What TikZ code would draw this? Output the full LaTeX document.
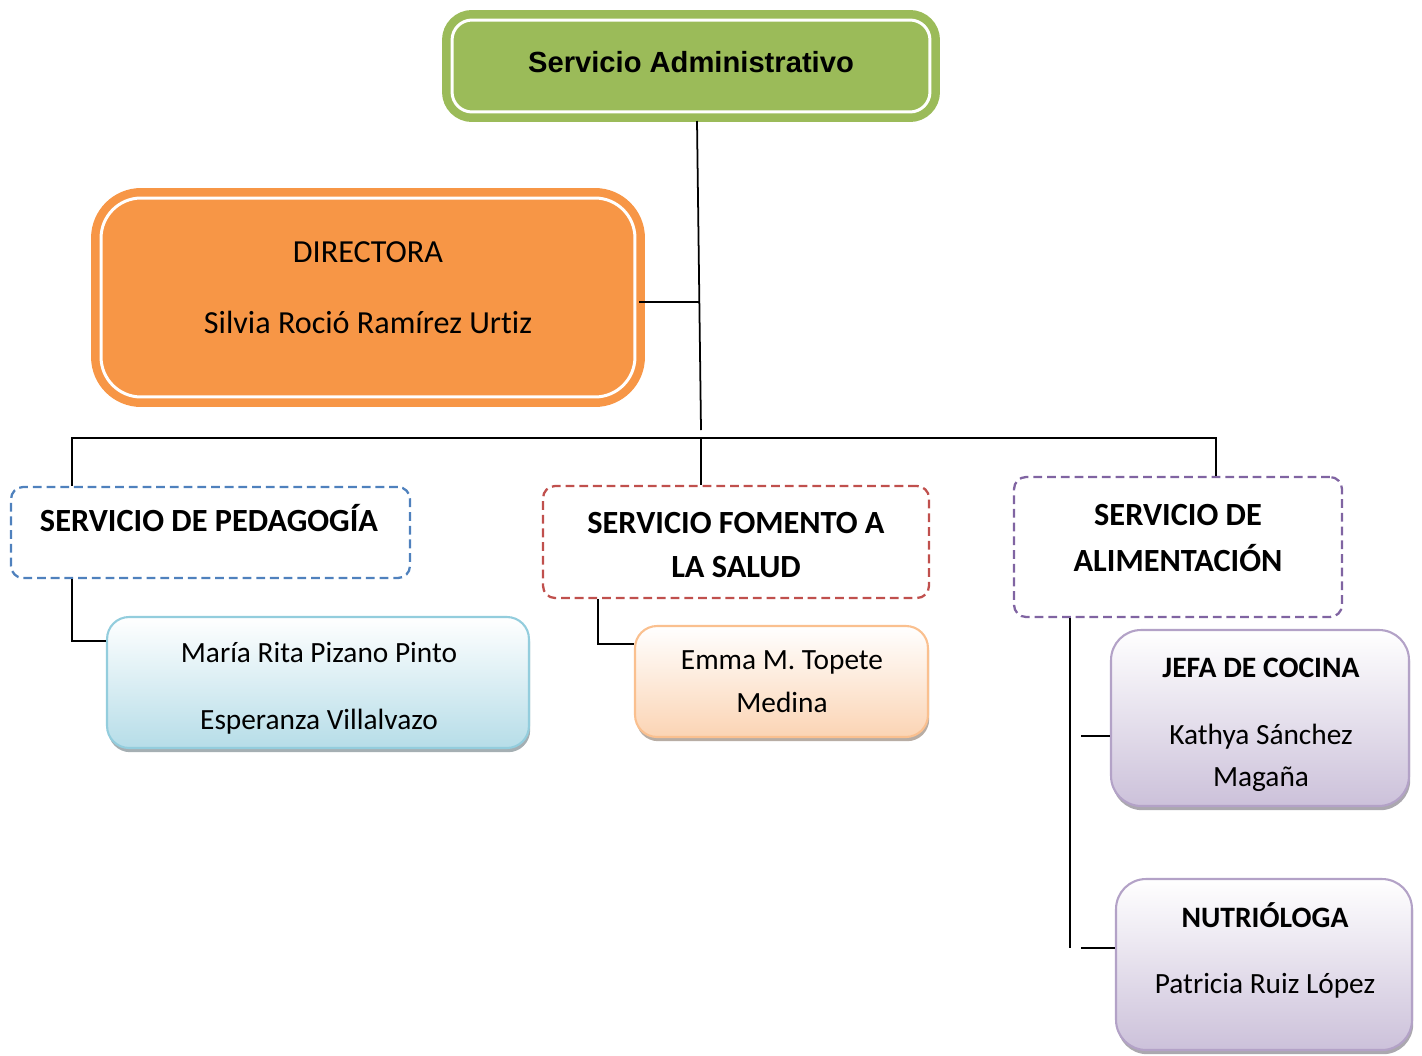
\documentclass[tikz,border=0pt]{standalone}
\usepackage{fontspec}
\setmainfont{Carlito}[Ligatures=NoCommon]
\newfontfamily\arialfont{Liberation Sans}
\usetikzlibrary{shadows}
\definecolor{grn}{HTML}{9BBB59}
\definecolor{org}{HTML}{F79646}
\definecolor{dblue}{HTML}{4F81BD}
\definecolor{dred}{HTML}{C0504D}
\definecolor{dpurp}{HTML}{8064A2}
\definecolor{lblue}{HTML}{B6DDE8}
\definecolor{lblueb}{HTML}{93CDDD}
\definecolor{lpeach}{HTML}{FBD4B4}
\definecolor{lpeachb}{HTML}{FAC08F}
\definecolor{lpurp}{HTML}{CCC1DA}
\definecolor{lpurpb}{HTML}{B3A2C7}
\tikzset{
  mainbox/.style={draw=#1, double=white, line width=0.17cm, double distance=0.06cm, fill=#1, inner sep=0pt},
  dashbox/.style={draw=#1, line width=1.3pt, dash pattern=on 5pt off 2.8pt, rounded corners=0.24cm, inner sep=0pt},
  gradbox/.style 2 args={draw=#2, line width=1.2pt, top color=white, bottom color=#1, rounded corners=0.44cm, inner sep=0pt,
     drop shadow={shadow xshift=0.7pt, shadow yshift=-2.4pt, fill=#1!50!black, opacity=0.55}},
  conn/.style={line width=1pt, black},
  txt/.style={anchor=base, inner sep=0pt, font=\fontsize{16.7}{19}\selectfont},
  btxt/.style={anchor=base, inner sep=0pt, font=\fontsize{18.4}{21}\selectfont\bfseries},
}
\begin{document}
\begin{tikzpicture}[x=0.02cm, y=-0.02cm]
\useasboundingbox (0,0) rectangle (1422,1055);
% boxes
\node[mainbox=grn, rounded corners=0.4cm, minimum width=9.56cm, minimum height=1.84cm] (adm) at (691,66) {};
\node[mainbox=org, rounded corners=0.8cm, minimum width=10.68cm, minimum height=3.98cm] (dir) at (368,297.5) {};
\node[dashbox=dblue, minimum width=7.98cm, minimum height=1.82cm] (ped) at (210.5,532.5) {};
\node[dashbox=dred, minimum width=7.72cm, minimum height=2.24cm] (sal) at (736,542) {};
\node[dashbox=dpurp, minimum width=6.56cm, minimum height=2.8cm] (alim) at (1178,547) {};
\node[gradbox={lblue}{lblueb}, minimum width=8.44cm, minimum height=2.62cm] (maria) at (318,682.5) {};
\node[gradbox={lpeach}{lpeachb}, minimum width=5.86cm, minimum height=2.22cm] (emma) at (781.5,681.5) {};
\node[gradbox={lpurp}{lpurpb}, rounded corners=0.6cm, minimum width=5.96cm, minimum height=3.52cm] (jefa) at (1260,718) {};
\node[gradbox={lpurp}{lpurpb}, rounded corners=0.6cm, minimum width=5.92cm, minimum height=3.42cm] (nutri) at (1264,964.5) {};
% texts
\node[anchor=base, inner sep=0pt, font=\arialfont\fontsize{16.6}{19}\selectfont\bfseries] (tadm) at (691,72) {Servicio Administrativo};
\node[txt, font=\fontsize{18.3}{21}\selectfont] (tdir1) at (368,262.5) {DIRECTORA};
\node[txt, font=\fontsize{18.3}{21}\selectfont] (tdir2) at (368,333.5) {Silvia Roció Ramírez Urtiz};
\node[btxt] (tped) at (209,531.5) {SERVICIO DE PEDAGOGÍA};
\node[btxt] (tsal1) at (736,533.5) {SERVICIO FOMENTO A};
\node[btxt] (tsal2) at (736,577.5) {LA SALUD};
\node[btxt] (tali1) at (1178,525.5) {SERVICIO DE};
\node[btxt] (tali2) at (1178,571) {ALIMENTACIÓN};
\node[txt] (tmar1) at (319,662.5) {María Rita Pizano Pinto};
\node[txt] (tmar2) at (319,729) {Esperanza Villalvazo};
\node[txt] (temm1) at (782,669) {Emma M. Topete};
\node[txt] (temm2) at (782,712) {Medina};
\node[btxt, font=\fontsize{16.85}{19}\selectfont\bfseries] (tjef1) at (1261,677.5) {JEFA DE COCINA};
\node[txt] (tjef2) at (1261,744) {Kathya Sánchez};
\node[txt] (tjef3) at (1261,786) {Magaña};
\node[btxt, font=\fontsize{16.85}{19}\selectfont\bfseries] (tnut1) at (1265,927) {NUTRIÓLOGA};
\node[txt] (tnut2) at (1265,993) {Patricia Ruiz López};
% connector points
\coordinate (c0) at (697,121);
\coordinate (c1) at (701,430);
\coordinate (jd) at (700,302);
\coordinate (bL) at (72,438);
\coordinate (bM) at (701,438);
\coordinate (bR) at (1216,438);
\coordinate (pm) at (72,641);
\coordinate (se) at (598,644);
\coordinate (av) at (1070,948);
\coordinate (s1) at (1081,736);
\coordinate (s2) at (1081,948);
% connectors
\draw[conn] (c0) -- (c1);
\draw[conn] (dir.east |- jd) -- (jd);
\draw[conn] (ped.north -| bL) -- (bL) -- (bR) -- (alim.north -| bR);
\draw[conn] (bM) -- (sal.north -| bM);
\draw[conn] (ped.south -| pm) -- (pm) -- (maria.west |- pm);
\draw[conn] (sal.south -| se) -- (se) -- (emma.west |- se);
\draw[conn] (alim.south -| av) -- (av);
\draw[conn] (s1) -- (jefa.west |- s1);
\draw[conn] (s2) -- (nutri.west |- s2);
\end{tikzpicture}
\end{document}
